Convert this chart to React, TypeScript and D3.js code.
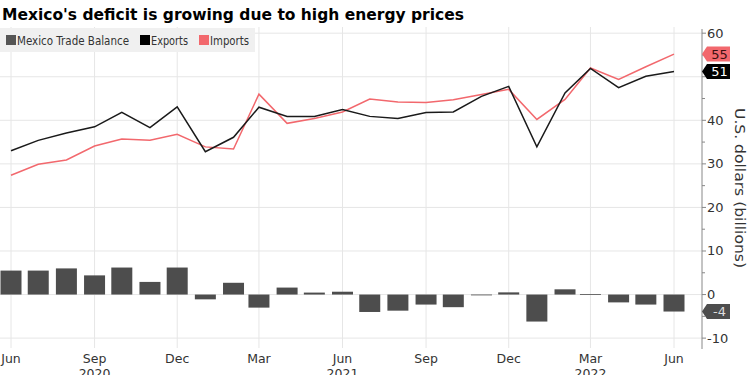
import React from "react";
import * as d3 from "d3";

const months: string[] = [
  "2020-06","2020-07","2020-08","2020-09","2020-10","2020-11","2020-12",
  "2021-01","2021-02","2021-03","2021-04","2021-05","2021-06","2021-07",
  "2021-08","2021-09","2021-10","2021-11","2021-12","2022-01","2022-02",
  "2022-03","2022-04","2022-05","2022-06",
];
const exportsVals: number[] = [33.0,35.4,37.1,38.5,41.8,38.3,43.1,32.8,36.1,43.0,40.9,40.9,42.5,40.9,40.4,41.8,41.9,45.5,47.8,33.9,46.3,51.9,47.5,50.1,51.2];
const importsVals: number[] = [27.4,29.9,30.9,34.1,35.7,35.4,36.8,33.9,33.4,46.0,39.3,40.4,41.9,44.9,44.2,44.1,44.7,45.9,47.1,40.2,44.8,52.0,49.4,52.3,55.2];
const balanceVals: number[] = [5.5,5.5,6.0,4.4,6.2,2.9,6.2,-1.1,2.7,-3.0,1.6,0.45,0.65,-4.0,-3.7,-2.3,-2.9,-0.1,0.5,-6.2,1.2,0.1,-1.8,-2.3,-3.9];
const xTickMonths: string[] = ["2020-06","2020-09","2020-12","2021-03","2021-06","2021-09","2021-12","2022-03","2022-06"];
const xTickLabels: string[] = ["Jun","Sep","Dec","Mar","Jun","Sep","Dec","Mar","Jun"];
const yearLabels: { month: string; label: string }[] = [
  { month: "2020-09", label: "2020" },
  { month: "2021-06", label: "2021" },
  { month: "2022-03", label: "2022" },
];
const yMajorTicks: number[] = [-10, 0, 10, 20, 30, 40, 50, 60];
const yLabelTicks: number[] = [-10, 0, 10, 20, 30, 40, 60];
const yMinorTicks: number[] = [-5, 5, 15, 25, 35, 45, 55];
const legendItems = [
  { label: "Mexico Trade Balance", color: "#555555" },
  { label: "Exports", color: "#000000" },
  { label: "Imports", color: "#f2686d" },
];

const parse = d3.timeParse("%Y-%m");
const FONT = "DejaVu Sans, Verdana, sans-serif";

export default function App() {
  const W = 750, H = 375;
  const axisX = 702;
  const x = d3.scaleTime()
    .domain([parse("2020-06")!, parse("2022-06")!])
    .range([11, 674]);
  const y = d3.scaleLinear().domain([-12.5, 60.5]).range([349, 31]);
  const dates = months.map((m) => parse(m)!);
  const barW = 21;

  const line = d3.line<number>()
    .x((_, i) => x(dates[i]))
    .y((v) => y(v));

  const badge = (cy: number, fill: string, textColor: string, label: string, key: string) => {
    const h = 15;
    const tip = axisX;
    const left = axisX + 5;
    const right = 730;
    const d = `M${tip},${cy} L${left},${cy - h / 2} L${right},${cy - h / 2} L${right},${cy + h / 2} L${left},${cy + h / 2} Z`;
    return (
      <g key={key}>
        <path d={d} fill={fill} />
        <text x={(left + right) / 2 + 1} y={cy + 4.5} textAnchor="middle" fontSize={13} fontFamily={FONT} fill={textColor}>{label}</text>
      </g>
    );
  };

  const last = months.length - 1;
  let impY = y(importsVals[last]);
  let expY = y(exportsVals[last]);
  if (expY - impY < 16) {
    const mid = (expY + impY) / 2;
    impY = mid - 8.5;
    expY = mid + 8.5;
  }

  return (
    <svg width={W} height={H} style={{ position: "absolute", left: 0, top: 0, background: "#fff" }}>
      {/* gridlines */}
      {yMajorTicks.map((t) => (
        <line key={"hg" + t} x1={0} x2={axisX} y1={y(t)} y2={y(t)} stroke="#e6e6e6" strokeWidth={1} />
      ))}
      {xTickMonths.map((m) => (
        <line key={"vg" + m} x1={x(parse(m)!)} x2={x(parse(m)!)} y1={27} y2={348} stroke="#e6e6e6" strokeWidth={1} />
      ))}

      {/* bars */}
      {balanceVals.map((v, i) => (
        <rect key={"b" + i} x={x(dates[i]) - barW / 2} width={barW}
          y={Math.min(y(v), y(0))} height={Math.max(0.8, Math.abs(y(v) - y(0)))}
          fill="#4d4d4d" />
      ))}

      {/* lines */}
      <path d={line(importsVals) || ""} fill="none" stroke="#f2686d" strokeWidth={1.5} />
      <path d={line(exportsVals) || ""} fill="none" stroke="#1a1a1a" strokeWidth={1.5} />

      {/* right axis */}
      <line x1={axisX} x2={axisX} y1={29} y2={349} stroke="#888" strokeWidth={1} />
      {yMajorTicks.map((t) => (
        <line key={"yt" + t} x1={axisX} x2={axisX + 4} y1={y(t)} y2={y(t)} stroke="#888" />
      ))}
      {yLabelTicks.map((t) => (
        <text key={"ytl" + t} x={axisX + 5} y={y(t) + 4.5} fontSize={13} fontFamily={FONT} fill="#333">{t}</text>
      ))}
      {yMinorTicks.map((t) => (
        <line key={"ym" + t} x1={axisX} x2={axisX + 3} y1={y(t)} y2={y(t)} stroke="#888" />
      ))}
      <text transform="translate(735,188) rotate(90)" textAnchor="middle" fontSize={14}
        fontFamily={FONT} fill="#333" textLength={160} lengthAdjust="spacingAndGlyphs">U.S. dollars (billions)</text>

      {/* badges */}
      {badge(impY, "#f2686d", "#3a1010", String(Math.round(importsVals[last])), "bi")}
      {badge(expY, "#000000", "#ffffff", String(Math.round(exportsVals[last])), "be")}
      {badge(y(balanceVals[last]), "#4d4d4d", "#dddddd", String(Math.round(balanceVals[last])), "bb")}

      {/* x axis labels */}
      {xTickMonths.map((m, i) => (
        <text key={"xl" + i} x={x(parse(m)!)} y={363} textAnchor="middle" fontSize={12.5} fontFamily={FONT} fill="#333">{xTickLabels[i]}</text>
      ))}
      {yearLabels.map((yl) => (
        <text key={"yl" + yl.label} x={x(parse(yl.month)!)} y={378} textAnchor="middle" fontSize={12.5} fontFamily={FONT} fill="#333">{yl.label}</text>
      ))}

      {/* legend */}
      <rect x={0} y={28} width={255} height={24} fill="#f0f0f0" />
      {(() => {
        const xs = [6, 140, 199];
        const lens = [112, 37, 39];
        return legendItems.map((it, i) => (
          <g key={"lg" + i}>
            <rect x={xs[i]} y={35} width={10} height={10} fill={it.color} />
            <text x={xs[i] + 11} y={44.5} fontSize={12} fontFamily={FONT} fill="#333"
              textLength={lens[i]} lengthAdjust="spacingAndGlyphs">{it.label}</text>
          </g>
        ));
      })()}

      {/* title */}
      <text x={2} y={20} fontSize={16} fontWeight="bold" fontFamily={FONT} fill="#000"
        textLength={462} lengthAdjust="spacingAndGlyphs">Mexico's deficit is growing due to high energy prices</text>
    </svg>
  );
}
